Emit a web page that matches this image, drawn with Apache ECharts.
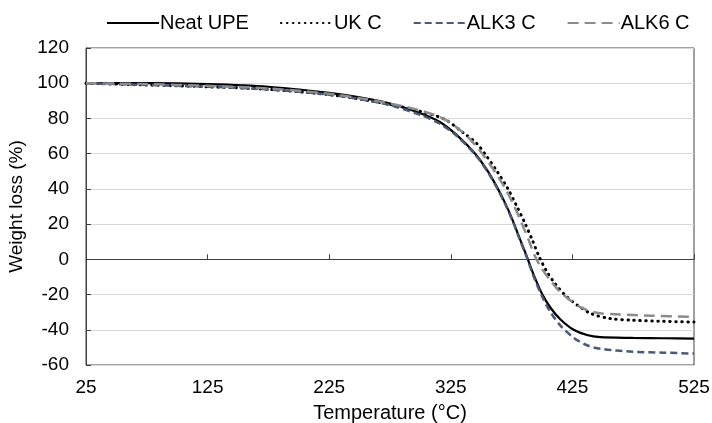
<!DOCTYPE html>
<html>
<head>
<meta charset="utf-8">
<script src="https://cdn.jsdelivr.net/npm/echarts@6/dist/echarts.min.js"></script>
<style>
html,body{margin:0;padding:0;background:#fff;}
#chart{width:712px;height:423px;}
</style>
</head>
<body>
<div id="chart"></div>
<script>
// Temperature (°C) and weight (%) for each series
const neatT   = [25, 75, 125, 175, 225, 250, 275, 300, 316, 330, 345, 355, 363, 370, 376, 381, 387, 393, 400, 407, 415, 426, 437, 448, 475, 500, 525];
const neatV   = [100, 100, 99.5, 98, 94.5, 92, 88.5, 83, 78, 70.5, 60, 50.5, 41, 31.5, 22, 13, 2.5, -8.5, -19.5, -27.5, -34, -40, -43, -44.2, -44.6, -44.8, -45];

const ukT     = [25, 75, 125, 175, 225, 250, 275, 300, 320, 335, 346, 354, 363, 372, 379, 386, 392, 398, 404, 411, 420, 430, 441, 456, 475, 500, 525];
const ukV     = [100, 99, 98, 96.5, 93.5, 91, 88, 84, 79.5, 72, 66, 59, 50, 40, 30.5, 20.5, 11, 1, -7, -14, -21, -26.5, -31, -33.6, -34.6, -35.2, -35.6];

const alk3T   = [25, 75, 125, 175, 225, 250, 275, 300, 316, 330, 345, 355, 363, 370, 376, 381, 387, 393, 400, 407, 415, 426, 437, 448, 475, 500, 525];
const alk3V   = [100, 99, 98, 96.5, 93.5, 91, 87.5, 82, 77, 70, 59.5, 50, 40.5, 31, 21.5, 12.5, 2, -9.5, -21, -30, -37.5, -44.5, -48.8, -50.8, -52.5, -53, -53.5];

const alk6T   = [25, 75, 125, 175, 225, 250, 275, 300, 320, 335, 345, 353, 361, 370, 377, 383, 389, 394, 400, 407, 415, 431, 445, 460, 490, 525];
const alk6V   = [100, 99.5, 98.5, 97, 94, 91.5, 88.5, 84.5, 79.5, 72, 65, 58, 50, 40, 30.5, 21, 11, 2, -5.5, -12, -18.5, -27, -30.3, -31.2, -32, -32.7];

const seriesNames = ['Neat UPE', 'UK C', 'ALK3 C', 'ALK6 C'];
const xTicks = [25, 125, 225, 325, 425, 525];
const yMin = -60, yMax = 120, yStep = 20;

function pairs(t, v) { return t.map((x, i) => [x, v[i]]); }

const chart = echarts.init(document.getElementById('chart'), null, {renderer: 'canvas'});
const font = 'Liberation Sans, Arial, sans-serif';

function mk(name, data, color, type, width) {
  return {
    name: name, type: 'line', data: data, symbol: 'none', showSymbol: false, smooth: 0.3,
    lineStyle: {color: color, width: width, type: type, cap: (name === 'UK C') ? 'round' : 'butt'},
    itemStyle: {color: color}, z: 3
  };
}

chart.setOption({
  animation: false,
  backgroundColor: '#fff',
  grid: {left: 86, right: 18, top: 48, bottom: 58, show: true, borderColor: '#404040', borderWidth: 1,
         containLabel: false, outerBoundsMode: 'none'},
  legend: {
    top: 8, left: 101, itemWidth: 52, itemHeight: 14, itemGap: 31,
    itemStyle: {opacity: 0},
    textStyle: {fontFamily: font, fontSize: 20, color: '#000', padding: [0, 0, 0, -4]},
    data: seriesNames
  },
  xAxis: {
    type: 'value', min: 25, max: 525,
    name: 'Temperature (°C)', nameLocation: 'middle', nameGap: 38,
    nameTextStyle: {fontFamily: font, fontSize: 20, color: '#000'},
    axisLine: {show: true, lineStyle: {color: '#404040', width: 1}},
    axisTick: {show: true, inside: true, length: 5, customValues: xTicks, lineStyle: {color: '#404040'}},
    axisLabel: {customValues: xTicks, fontFamily: font, fontSize: 19, color: '#000', margin: 13},
    splitLine: {show: false}
  },
  yAxis: {
    type: 'value', min: yMin, max: yMax, interval: yStep,
    name: 'Weight loss (%)', nameLocation: 'middle', nameGap: 56,
    nameTextStyle: {fontFamily: font, fontSize: 19, color: '#000'},
    axisLine: {show: true, lineStyle: {color: '#404040', width: 1}},
    axisTick: {show: true, inside: true, length: 5, lineStyle: {color: '#404040'}},
    axisLabel: {fontFamily: font, fontSize: 19, color: '#000', margin: 17},
    splitLine: {show: true, lineStyle: {color: '#d9d9d9', width: 1}}
  },
  series: [
    mk(seriesNames[0], pairs(neatT, neatV), '#000000', 'solid', 2.2),
    mk(seriesNames[1], pairs(ukT, ukV), '#000000', [0.5, 5.5], 3),
    mk(seriesNames[2], pairs(alk3T, alk3V), '#4a5a78', [7, 4], 2.5),
    mk(seriesNames[3], pairs(alk6T, alk6V), '#8c8c8c', [11, 6], 2.5)
  ]
});
</script>
</body>
</html>
